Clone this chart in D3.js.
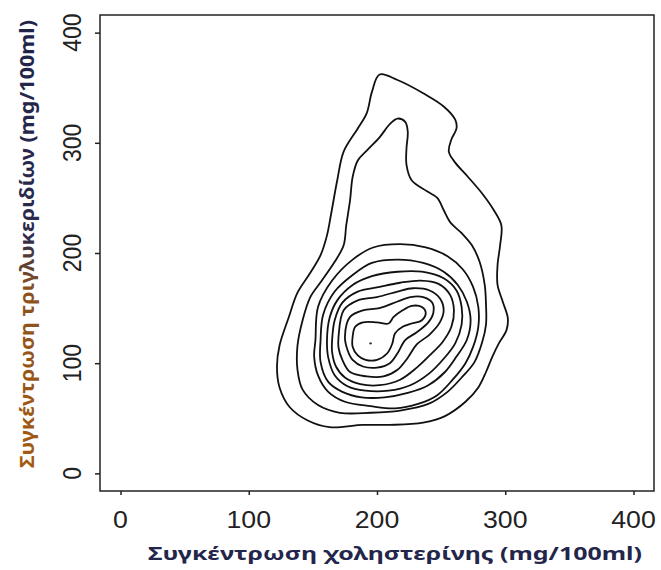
<!DOCTYPE html>
<html>
<head>
<meta charset="utf-8">
<script src="https://cdn.jsdelivr.net/npm/d3@7"></script>
<style>
  body { margin: 0; background: #fff; }
</style>
</head>
<body>
<div id="chart"></div>
<script>
// Axis ticks and titles
var xTicks = [0, 100, 200, 300, 400];
var yTicks = [0, 100, 200, 300, 400];
var xTitle = "Συγκέντρωση χοληστερίνης (mg/100ml)";
var yTitle = "Συγκέντρωση τριγλυκεριδίων (mg/100ml)";

// Density contour lines, outermost first, as [cholesterol, triglycerides]
var level1 = [[202,362],[216,357],[236,345],[252,333],[261,321],[262,313],[258,303],[256,292],[261,282],[271,269],
  [282,254],[291,239],[297,225],[296,207],[294,189],[294,171],[298,156],[302,141],[301,130],[295,118],[290,106],
  [285,92],[279,78],[269,65],[253,52],[236,46],[210,44],[189,44],[163,42],[146,48],[132,60],[124,78],[122,97],
  [124,116],[131,141],[138,164],[148,182],[156,198],[161,216],[164,234],[169,266],[174,292],[185,313],[192,327],[196,346]];
var level2 = [[216,322],[222,319],[224,310],[223,295],[223,280],[227,266],[239,256],[247,250],[252,239],[257,228],
  [266,218],[274,207],[280,192],[284,171],[285,153],[285,135],[282,119],[276,101],[266,87],[255,74],[240,63],
  [218,57],[195,55],[171,55],[154,62],[142,76],[138,94],[138,116],[142,139],[148,160],[157,175],[167,192],
  [174,207],[176,225],[179,248],[181,269],[185,284],[192,293],[202,305],[210,317]];
var level3 = [[152,121],[154,151],[165,175],[181,194],[197,205],[218,208],[238,205],[255,197],[267,185],[275,169],
  [279,151],[279,133],[275,115],[269,100],[259,85],[247,71],[232,63],[214,59],[195,61],[175,65],[162,74],[154,89],[151,106]];
var level4 = [[156,121],[158,144],[167,165],[181,180],[196,191],[216,194],[236,191],[252,183],[263,171],[270,156],
  [273,139],[270,121],[262,106],[253,92],[240,80],[224,73],[206,69],[188,69],[173,74],[162,83],[156,101]];
var level5 = [[161,121],[163,141],[169,157],[181,171],[196,179],[216,183],[235,183],[252,177],[262,166],[266,151],
  [266,135],[261,118],[252,104],[241,91],[226,80],[209,75],[191,75],[177,79],[167,89],[162,105]];
var level6 = [[165,121],[167,139],[173,155],[185,165],[201,169],[218,173],[234,175],[248,172],[257,162],[260,148],
  [258,133],[251,119],[241,107],[231,96],[218,85],[202,80],[187,81],[175,87],[168,97],[165,110]];
var level7 = [[170,124],[174,148],[185,157],[200,160],[216,165],[228,168],[241,166],[249,159],[252,148],[249,137],
  [241,126],[231,117],[224,105],[216,94],[205,88],[192,88],[179,92],[173,103],[170,114]];
var level8 = [[175,124],[179,142],[189,148],[202,150],[216,156],[226,160],[236,160],[243,155],[244,146],[240,137],
  [231,128],[222,121],[216,109],[210,100],[200,96],[189,97],[181,103],[177,112]];
var level9 = [[181,124],[183,133],[189,137],[200,137],[209,136],[213,142],[220,148],[227,152],[235,151],[238,146],
  [235,139],[227,136],[220,133],[214,127],[212,118],[208,109],[200,103],[191,103],[185,107],[181,115]];
var peak = [195, 118];

var contours = [level1, level2, level3, level4, level5, level6, level7, level8, level9];

var W = 661, H = 570;
var margin = { top: 15, right: 7, bottom: 79, left: 100 };
var stretch = 1.16; // the original figure is wider than tall

var svg = d3.select("#chart").append("svg")
    .attr("width", W)
    .attr("height", H);

var x = d3.scaleLinear().domain([-16, 416]).range([margin.left, W - margin.right]);
var y = d3.scaleLinear().domain([-16, 416]).range([H - margin.bottom, margin.top]);

// Contour lines
var line = d3.line()
    .x(function (d) { return x(d[0]); })
    .y(function (d) { return y(d[1]); })
    .curve(d3.curveCatmullRomClosed.alpha(0.5));

svg.append("g").selectAll("path")
    .data(contours)
    .enter().append("path")
    .attr("d", line)
    .attr("fill", "none")
    .attr("stroke", "#111")
    .attr("stroke-width", 1.8);

svg.append("circle")
    .attr("cx", x(peak[0]))
    .attr("cy", y(peak[1]))
    .attr("r", 1.2)
    .attr("fill", "#333");

// Frame
svg.append("rect")
    .attr("x", margin.left)
    .attr("y", margin.top)
    .attr("width", W - margin.left - margin.right)
    .attr("height", H - margin.top - margin.bottom)
    .attr("fill", "none")
    .attr("stroke", "#222")
    .attr("stroke-width", 1.5);

// Axes (ticks only, labels drawn below)
var xAxis = svg.append("g")
    .attr("transform", "translate(0," + (H - margin.bottom) + ")")
    .call(d3.axisBottom(x).tickValues(xTicks).tickSize(4).tickSizeOuter(0).tickFormat(""));
var yAxis = svg.append("g")
    .attr("transform", "translate(" + margin.left + ",0)")
    .call(d3.axisLeft(y).tickValues(yTicks).tickSize(5).tickSizeOuter(0).tickFormat(""));
xAxis.select(".domain").remove();
yAxis.select(".domain").remove();
svg.selectAll(".tick line").attr("stroke", "#222").attr("stroke-width", 1.5);

svg.append("g").selectAll("text")
    .data(xTicks)
    .enter().append("text")
    .attr("transform", function (d) { return "translate(" + x(d) + ",528) scale(" + stretch + ",1)"; })
    .attr("text-anchor", "middle")
    .style("font-family", "'Liberation Sans', Arial, sans-serif")
    .style("font-size", "23px")
    .attr("fill", "#222")
    .text(function (d) { return d; });

svg.append("g").selectAll("text")
    .data(yTicks)
    .enter().append("text")
    .attr("transform", function (d) { return "translate(80.5," + y(d) + ") scale(" + stretch + ",1) rotate(-90)"; })
    .attr("text-anchor", "middle")
    .style("font-family", "'Liberation Sans', Arial, sans-serif")
    .style("font-size", "23px")
    .attr("fill", "#222")
    .text(function (d) { return d; });

// Axis titles
// gradient in the rotated frame of the y title: local x runs bottom -> top
var defs = svg.append("defs");
var grad = defs.append("linearGradient")
    .attr("id", "ytitle-grad")
    .attr("gradientUnits", "userSpaceOnUse")
    .attr("x1", -226).attr("y1", 0).attr("x2", 224).attr("y2", 0);
grad.append("stop").attr("offset", "0%").attr("stop-color", "#a35a14");
grad.append("stop").attr("offset", "40%").attr("stop-color", "#8a5220");
grad.append("stop").attr("offset", "52%").attr("stop-color", "#2c2a4c");
grad.append("stop").attr("offset", "100%").attr("stop-color", "#1f2348");

svg.append("text")
    .attr("x", 395)
    .attr("y", 560)
    .attr("text-anchor", "middle")
    .attr("textLength", 494)
    .attr("lengthAdjust", "spacingAndGlyphs")
    .style("font-family", "'Noto Sans', 'Open Sans', sans-serif")
    .style("font-weight", "bold")
    .style("font-size", "18px")
    .attr("fill", "#23264a")
    .text(xTitle);

svg.append("text")
    .attr("transform", "translate(34,244) rotate(-90)")
    .attr("text-anchor", "middle")
    .attr("textLength", 448)
    .attr("lengthAdjust", "spacingAndGlyphs")
    .style("font-family", "'Noto Sans', 'Open Sans', sans-serif")
    .style("font-weight", "bold")
    .style("font-size", "20px")
    .attr("fill", "url(#ytitle-grad)")
    .text(yTitle);
</script>
</body>
</html>
